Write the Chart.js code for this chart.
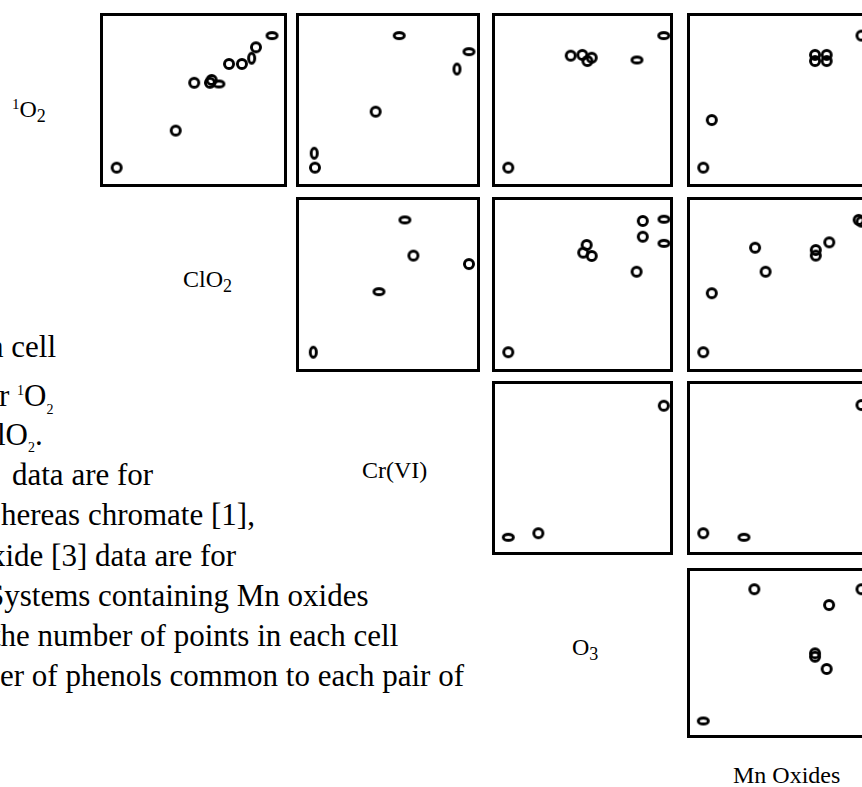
<!DOCTYPE html>
<html>
<head>
<meta charset="utf-8">
<script src="https://cdn.jsdelivr.net/npm/chart.js@4/dist/chart.umd.min.js"></script>
<style>
  html, body { margin: 0; padding: 0; background: #fff; overflow: hidden; }
  #page { position: relative; width: 862px; height: 787px; overflow: hidden; }
  .panel { position: absolute; border: 3px solid #000; box-sizing: border-box; }
  .panel canvas { position: absolute; left: -3px; top: -3px; }
  .lbl, .cap { position: absolute; font-family: "Liberation Serif", "Times New Roman", serif; color: #000; white-space: nowrap; }
  .lbl { font-size: 24px; line-height: 24px; }
  .cap { font-size: 31px; line-height: 31px; }
  .cap sup, .cap sub { font-size: 14px; }
  .lbl sub { font-size: 18px; vertical-align: -5px; }
  .lbl sup { font-size: 15px; vertical-align: 8px; }
</style>
</head>
<body>
<div id="page"></div>
<script>
// variables on the diagonal
const variables = ["1O2", "ClO2", "Cr(VI)", "O3", "Mn Oxides"];

const o2_clo2_x = [8.9, 40.5, 50.4, 58.8, 59.7, 63.6, 69.0, 75.9, 81.1, 83.4, 92.0];
const o2_clo2_y = [11.1, 32.4, 59.9, 59.9, 61.5, 59.2, 70.7, 70.7, 74.0, 80.3, 87.0];

const o2_cr_x = [56.1, 94.0, 87.5, 43.3, 9.9, 10.3];
const o2_cr_y = [87.0, 77.8, 67.8, 43.3, 19.4, 11.1];

const o2_o3_x = [9.0, 43.5, 49.9, 52.7, 55.1, 80.1, 94.9];
const o2_o3_y = [11.1, 75.5, 75.9, 72.4, 74.3, 73.0, 87.0];

const o2_mn_x = [8.8, 13.4, 69.2, 69.2, 75.5, 75.5, 94.3];
const o2_mn_y = [11.1, 38.5, 75.9, 72.4, 75.9, 72.4, 87.0];

const clo2_cr_x = [59.2, 63.8, 94.0, 45.1, 9.4];
const clo2_cr_y = [86.9, 66.5, 61.7, 45.9, 11.3];

const clo2_o3_x = [9.0, 52.3, 50.4, 55.1, 79.9, 83.3, 83.3, 95.0, 95.0];
const clo2_o3_y = [11.3, 72.6, 68.2, 66.3, 57.3, 86.3, 77.3, 87.3, 73.5];

const clo2_mn_x = [8.8, 13.4, 36.8, 42.5, 69.6, 69.6, 76.9, 92.8, 94.3];
const clo2_mn_y = [11.3, 45.0, 71.0, 57.3, 69.7, 66.5, 74.1, 86.9, 85.9];

const cr_o3_x = [9.0, 25.6, 94.9];
const cr_o3_y = [10.2, 12.5, 85.8];

const cr_mn_x = [8.8, 30.8, 94.3];
const cr_mn_y = [12.5, 10.2, 86.2];

const o3_mn_x = [8.8, 36.4, 76.8, 69.2, 69.2, 75.5, 94.3];
const o3_mn_y = [10.0, 87.5, 78.2, 49.8, 47.8, 40.6, 87.5];

// marker shapes (c = circle, w = flat ellipse, t = tall ellipse)
const shapes = {
  o2_clo2: "cccccwcctcw",
  o2_cr: "wwtctc",
  o2_o3: "cccccww",
  o2_mn: "ccccccc",
  clo2_cr: "wccwt",
  clo2_o3: "cccccccww",
  clo2_mn: "ccccccccc",
  cr_o3: "wcc",
  cr_mn: "cwc",
  o3_mn: "wcccccc"
};

const colX = [100, 296, 492, 687];
const colW = [187, 184, 181, 185];
const rowY = [13, 197, 381, 568];
const rowH = [174, 175, 174, 170];

const cells = [
  { r: 0, c: 0, key: "o2_clo2", x: o2_clo2_x, y: o2_clo2_y },
  { r: 0, c: 1, key: "o2_cr", x: o2_cr_x, y: o2_cr_y },
  { r: 0, c: 2, key: "o2_o3", x: o2_o3_x, y: o2_o3_y },
  { r: 0, c: 3, key: "o2_mn", x: o2_mn_x, y: o2_mn_y },
  { r: 1, c: 1, key: "clo2_cr", x: clo2_cr_x, y: clo2_cr_y },
  { r: 1, c: 2, key: "clo2_o3", x: clo2_o3_x, y: clo2_o3_y },
  { r: 1, c: 3, key: "clo2_mn", x: clo2_mn_x, y: clo2_mn_y },
  { r: 2, c: 2, key: "cr_o3", x: cr_o3_x, y: cr_o3_y },
  { r: 2, c: 3, key: "cr_mn", x: cr_mn_x, y: cr_mn_y },
  { r: 3, c: 3, key: "o3_mn", x: o3_mn_x, y: o3_mn_y }
];

function makeMarker(w, h) {
  const cv = document.createElement("canvas");
  cv.width = w + 4;
  cv.height = h + 4;
  const g = cv.getContext("2d");
  g.lineWidth = 2.9;
  g.strokeStyle = "#000";
  g.beginPath();
  g.ellipse(cv.width / 2, cv.height / 2, (w - 2.9) / 2, (h - 2.9) / 2, 0, 0, Math.PI * 2);
  g.stroke();
  return cv;
}

const markers = { c: makeMarker(12, 12), w: makeMarker(13, 9), t: makeMarker(9, 13) };

const page = document.getElementById("page");

cells.forEach((cell) => {
  const div = document.createElement("div");
  div.className = "panel";
  const w = colW[cell.c], h = rowH[cell.r];
  div.style.left = colX[cell.c] + "px";
  div.style.top = rowY[cell.r] + "px";
  div.style.width = w + "px";
  div.style.height = h + "px";
  const cv = document.createElement("canvas");
  cv.width = w;
  cv.height = h;
  div.appendChild(cv);
  page.appendChild(div);

  const sh = shapes[cell.key];
  new Chart(cv, {
    type: "scatter",
    data: {
      datasets: [{
        data: cell.x.map((v, i) => ({ x: v, y: cell.y[i] })),
        pointStyle: (ctx) => markers[sh[ctx.dataIndex]] || markers.c,
        pointRadius: 6,
        clip: false
      }]
    },
    options: {
      responsive: false,
      animation: false,
      events: [],
      layout: { padding: 0, autoPadding: false },
      plugins: { legend: { display: false }, tooltip: { enabled: false } },
      scales: {
        x: { display: false, min: 0, max: 100 },
        y: { display: false, min: 0, max: 100 }
      }
    }
  });
});

// diagonal labels
const labels = [
  { html: "<sup>1</sup>O<sub>2</sub>", x: 12, top: 92 },
  { html: "ClO<sub>2</sub>", x: 183, top: 267 },
  { html: "Cr(VI)", x: 362, top: 458 },
  { html: "O<sub>3</sub>", x: 572, top: 635 },
  { html: "Mn Oxides", x: 733, top: 763 }
];
labels.forEach((l) => {
  const d = document.createElement("div");
  d.className = "lbl";
  d.innerHTML = l.html;
  d.style.left = l.x + "px";
  d.style.top = l.top + "px";
  page.appendChild(d);
});

// caption text, cut off at the left edge
const caption = [
  { html: "h cell", x: -12 },
  { html: "r <sup>1</sup>O<sub>2</sub>", x: -1 },
  { html: "lO<sub>2</sub>.", x: -3 },
  { html: "data are for", x: 12 },
  { html: "hereas chromate [1],", x: 1 },
  { html: "xide [3] data are for", x: -10 },
  { html: "Systems containing Mn oxides", x: -13 },
  { html: "the number of points in each cell", x: -8 },
  { html: "er of phenols common to each pair of", x: 0 }
];
const capBase = [357, 401, 445, 485, 525, 566, 606, 646, 686];
caption.forEach((l, i) => {
  const d = document.createElement("div");
  d.className = "cap";
  d.innerHTML = l.html;
  d.style.left = l.x + "px";
  d.style.top = (capBase[i] - 26) + "px";
  page.appendChild(d);
});
</script>
</body>
</html>
